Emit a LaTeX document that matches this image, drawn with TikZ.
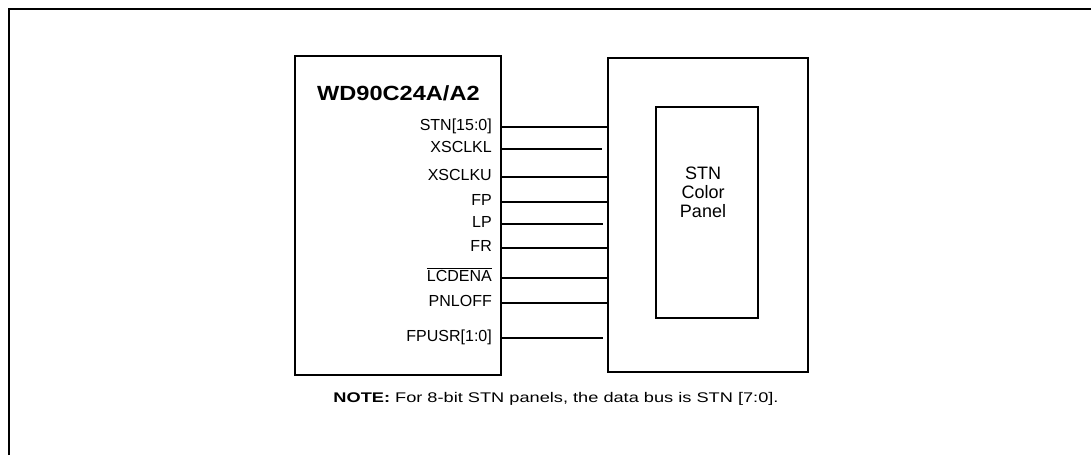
\documentclass[tikz,border=0pt]{standalone}
\usepackage{fontspec}
\setmainfont{Liberation Sans}
\begin{document}
\begin{tikzpicture}[x=1pt, y=-1pt,
    box/.style={draw, line width=1.2pt, inner sep=0pt},
    pin/.style={anchor=base east, inner sep=0pt, font=\fontsize{16}{18}\selectfont},
    sig/.style={line width=1.1pt},
    bus/.style={line width=2.2pt}]
    \useasboundingbox (0,0) rectangle (1091,455);
    % Khung ngoài
    \draw[line width=1.3pt] (9,455) -- (9,9) -- (1091,9);

    % Chip và màn hình
    \node[box, minimum width=206pt, minimum height=319pt] (chip) at (398,215.5) {};
    \node[box, minimum width=200pt, minimum height=314pt] (panel) at (708,215) {};
    \node[box, minimum width=102pt, minimum height=211pt] (screen) at (707,212.5) {};
    \node[anchor=base west, inner sep=0pt, font=\fontsize{20.5}{22}\selectfont\bfseries\addfontfeature{FakeStretch=1.15}] (chipname) at (317,100) {WD90C24A/A2};
    \node[anchor=north, align=center, inner sep=0pt, font=\fontsize{18}{19}\selectfont] (paneltext) at (703,167) {STN\\Color\\Panel};

    % Các tín hiệu
    \node[pin] (stn) at (492,130) {STN[15:0]};
    \node[pin] (sclkl) at (492,152) {XSCLKL};
    \node[pin] (sclku) at (492,180) {XSCLKU};
    \node[pin] (fp) at (492,205) {FP};
    \node[pin] (lp) at (492,227) {LP};
    \node[pin] (fr) at (492,251) {FR};
    \node[pin] (lcdena) at (492,281) {$\overline{\hbox{LCDENA}}$};
    \node[pin] (pnloff) at (492,306) {PNLOFF};
    \node[pin] (fpusr) at (492,341) {FPUSR[1:0]};

    \draw[bus] (chip.east |- 0,127) -- (panel.west |- 0,127);
    \draw[sig, shorten >=5pt] (chip.east |- 0,149) -- (panel.west |- 0,149);
    \draw[sig] (chip.east |- 0,177) -- (panel.west |- 0,177);
    \draw[sig] (chip.east |- 0,202) -- (panel.west |- 0,202);
    \draw[sig, shorten >=4pt] (chip.east |- 0,224) -- (panel.west |- 0,224);
    \draw[sig] (chip.east |- 0,248) -- (panel.west |- 0,248);
    \draw[sig] (chip.east |- 0,278) -- (panel.west |- 0,278);
    \draw[sig] (chip.east |- 0,303) -- (panel.west |- 0,303);
    \draw[sig, shorten >=4pt] (chip.east |- 0,338) -- (panel.west |- 0,338);

    % Ghi chú
    \node[anchor=base, inner sep=0pt, font=\fontsize{14}{16}\selectfont\addfontfeature{FakeStretch=1.3}] (note) at (556,402) {\textbf{NOTE:} For 8-bit STN panels, the data bus is STN [7:0].};
\end{tikzpicture}
\end{document}
